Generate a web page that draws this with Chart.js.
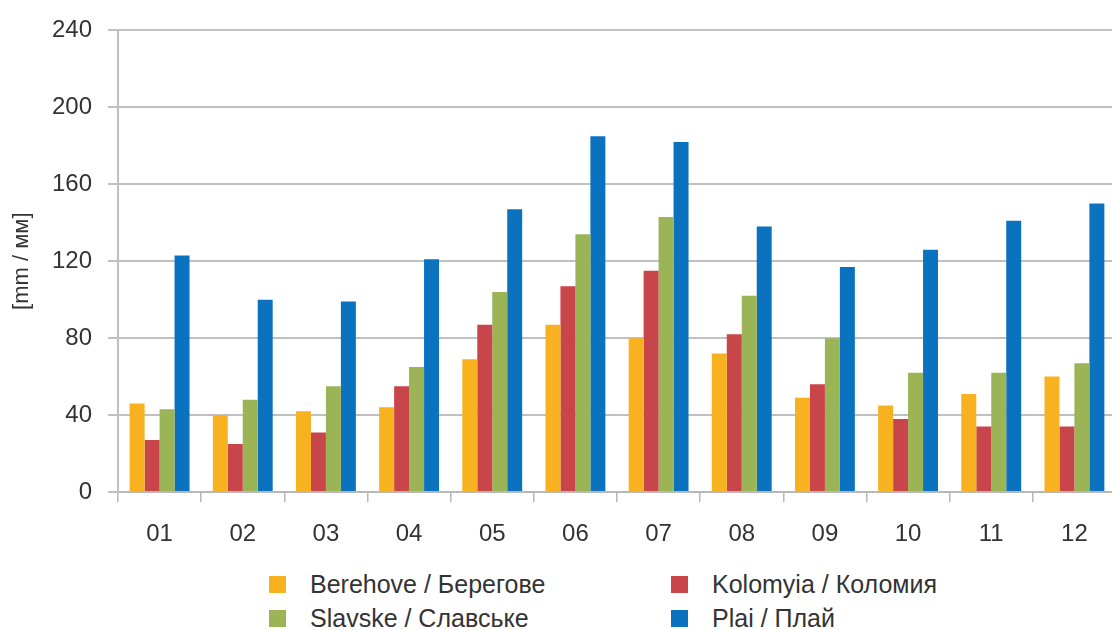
<!doctype html>
<html lang="en">
  <head>
    <meta charset="utf-8">
    <title>Monthly precipitation</title>
    <style>
    html, body {
      margin: 0;
      padding: 0;
      background: #fff;
      overflow: hidden;
    }
    #wrap {
      position: relative;
      width: 1116px;
      height: 630px;
    }
    #box {
      position: absolute;
      left: 0;
      top: 0;
      width: 1116px;
      height: 560px;
    }
    #legend {
      position: absolute;
      left: 269px;
      top: 571px;
      display: grid;
      grid-template-columns: 402px 300px;
      row-gap: 8px;
      font-family: "Liberation Sans", Arial, sans-serif;
      font-size: 25px;
      color: #333;
    }
    #legend .item {
      display: flex;
      align-items: center;
      height: 26px;
      white-space: nowrap;
    }
    #legend .sw {
      width: 17px;
      height: 17px;
      margin-right: 24px;
    }
    </style>
  </head>
  <body>
    <div id="wrap">
      <div id="box"><canvas id="canvas"></canvas></div>
      <div id="legend"></div>
    </div>

    <script src="https://cdn.jsdelivr.net/npm/chart.js@4"></script>
    <script>
    const months = ['01', '02', '03', '04', '05', '06', '07', '08', '09', '10', '11', '12'];
    const berehove = [46, 40, 42, 44, 69, 87, 80, 72, 49, 45, 51, 60];
    const kolomyia = [27, 25, 31, 55, 87, 107, 115, 82, 56, 38, 34, 34];
    const slavske = [43, 48, 55, 65, 104, 134, 143, 102, 80, 62, 62, 67];
    const plai = [123, 100, 99, 121, 147, 185, 182, 138, 117, 126, 141, 150];
    const seriesNames = ['Berehove / Берегове', 'Kolomyia / Коломия', 'Slavske / Славське', 'Plai / Плай'];
    const yMin = 0, yMax = 240, yStep = 40;
    const yTitle = '[mm / мм]';

    const colors = ['#F8B11F', '#C8464A', '#9BB456', '#0B72C0'];
    const txt = '#333';
    const font = "'Liberation Sans', Arial, sans-serif";

    const chart = new Chart(document.getElementById('canvas'), {
      type: 'bar',
      data: {
        labels: months,
        datasets: [berehove, kolomyia, slavske, plai].map((d, i) => ({
          label: seriesNames[i],
          data: d,
          backgroundColor: colors[i],
          borderWidth: 0,
          categoryPercentage: 0.72,
          barPercentage: 1.0
        }))
      },
      options: {
        responsive: true,
        maintainAspectRatio: false,
        animation: false,
        layout: { padding: { top: 26, right: 0, bottom: 0, left: 0 } },
        plugins: {
          legend: { display: false },
          tooltip: { enabled: false }
        },
        scales: {
          x: {
            grid: {
              drawOnChartArea: false,
              drawTicks: true,
              tickLength: 10,
              color: '#b8b8b8',
              lineWidth: 1.5
            },
            border: { color: '#b8b8b8', width: 2 },
            ticks: {
              color: txt,
              font: { family: font, size: 24 },
              padding: 18
            },
            afterFit: (s) => { s.height = 68; }
          },
          y: {
            min: yMin,
            max: yMax,
            ticks: {
              stepSize: yStep,
              color: txt,
              font: { family: font, size: 24 },
              padding: 16
            },
            grid: {
              color: '#c0c0c0',
              lineWidth: 2,
              tickLength: 10
            },
            border: { color: '#c0c0c0', width: 2 },
            title: {
              display: true,
              text: yTitle,
              color: txt,
              font: { family: font, size: 22 },
              padding: { top: 9, bottom: 0 }
            },
            afterFit: (s) => { s.width = 118; }
          }
        }
      }
    });

    // legend in two columns, built from the datasets
    const legend = document.getElementById('legend');
    chart.data.datasets.forEach((ds) => {
      const item = document.createElement('div');
      item.className = 'item';
      const sw = document.createElement('span');
      sw.className = 'sw';
      sw.style.background = ds.backgroundColor;
      const label = document.createElement('span');
      label.textContent = ds.label;
      item.appendChild(sw);
      item.appendChild(label);
      legend.appendChild(item);
    });
    </script>
  </body>
</html>
